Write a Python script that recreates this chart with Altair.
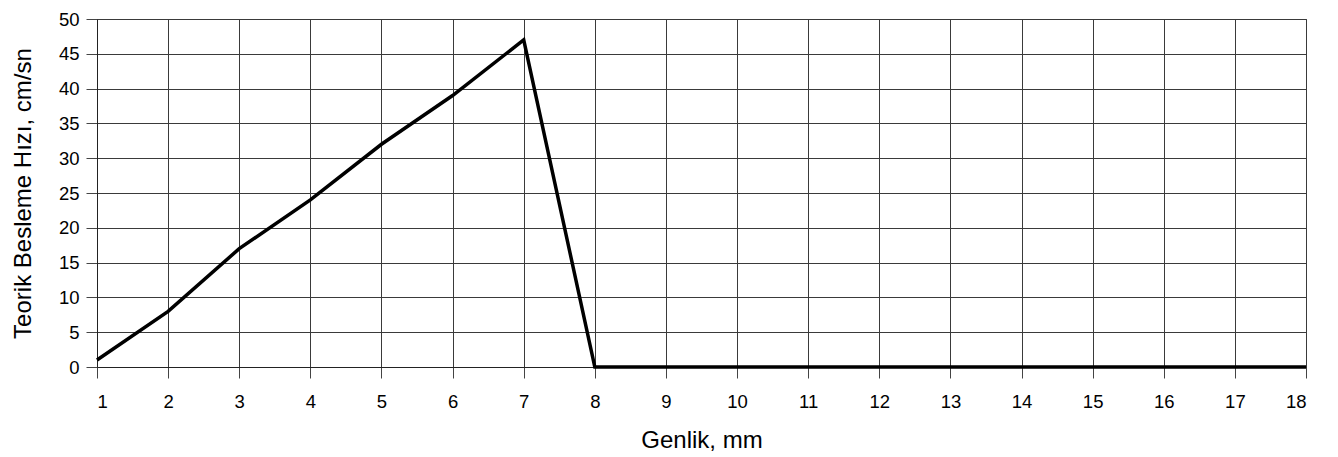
import altair as alt
import pandas as pd

genlik = list(range(1, 19))
hiz = [1, 8, 17, 24, 32, 39, 47, 0, 0, 0, 0, 0, 0, 0, 0, 0, 0, 0]
y_ticks = list(range(0, 51, 5))

df = pd.DataFrame({"Genlik": genlik, "Hiz": hiz})

PLOT_W = 1209
PLOT_H = 348
LEFT = 89
TOP = 11

common_axis = dict(
    labelFontSize=18.5, titleFontSize=24, titleFontWeight="normal",
    gridColor="#3a3a3a", gridWidth=1, gridOpacity=1,
    domainColor="#222", tickColor="#444", tickSize=11,
    labelColor="black", titleColor="black",
)

chart = alt.Chart(df).mark_line(color="black", strokeWidth=3.5, strokeJoin="miter").encode(
    x=alt.X("Genlik:Q", title="Genlik, mm",
            scale=alt.Scale(domain=[1, 18], nice=False, zero=False),
            axis=alt.Axis(values=genlik, format="d", labelPadding=14,
                          titleBaseline="alphabetic", titleY=80,
                          titleX=PLOT_W / 2, titleAlign="center",
                          **common_axis)),
    y=alt.Y("Hiz:Q", title="Teorik Besleme Hızı, cm/sn",
            scale=alt.Scale(domain=[0, 50], nice=False),
            axis=alt.Axis(values=y_ticks, labelPadding=7,
                          titleAngle=270, titleBaseline="alphabetic",
                          titleX=-67, titleY=PLOT_H / 2, titleAlign="center",
                          **common_axis)),
).properties(
    width=PLOT_W, height=PLOT_H,
    autosize=alt.AutoSizeParams(type="none"),
    padding={"left": LEFT, "top": TOP, "right": 20, "bottom": 88},
).configure_axis(
    labelFont="Liberation Sans", titleFont="Liberation Sans"
).configure_view(stroke="#3a3a3a", strokeWidth=1)

chart.save("out.html", embed_options={"renderer": "svg", "actions": False})
